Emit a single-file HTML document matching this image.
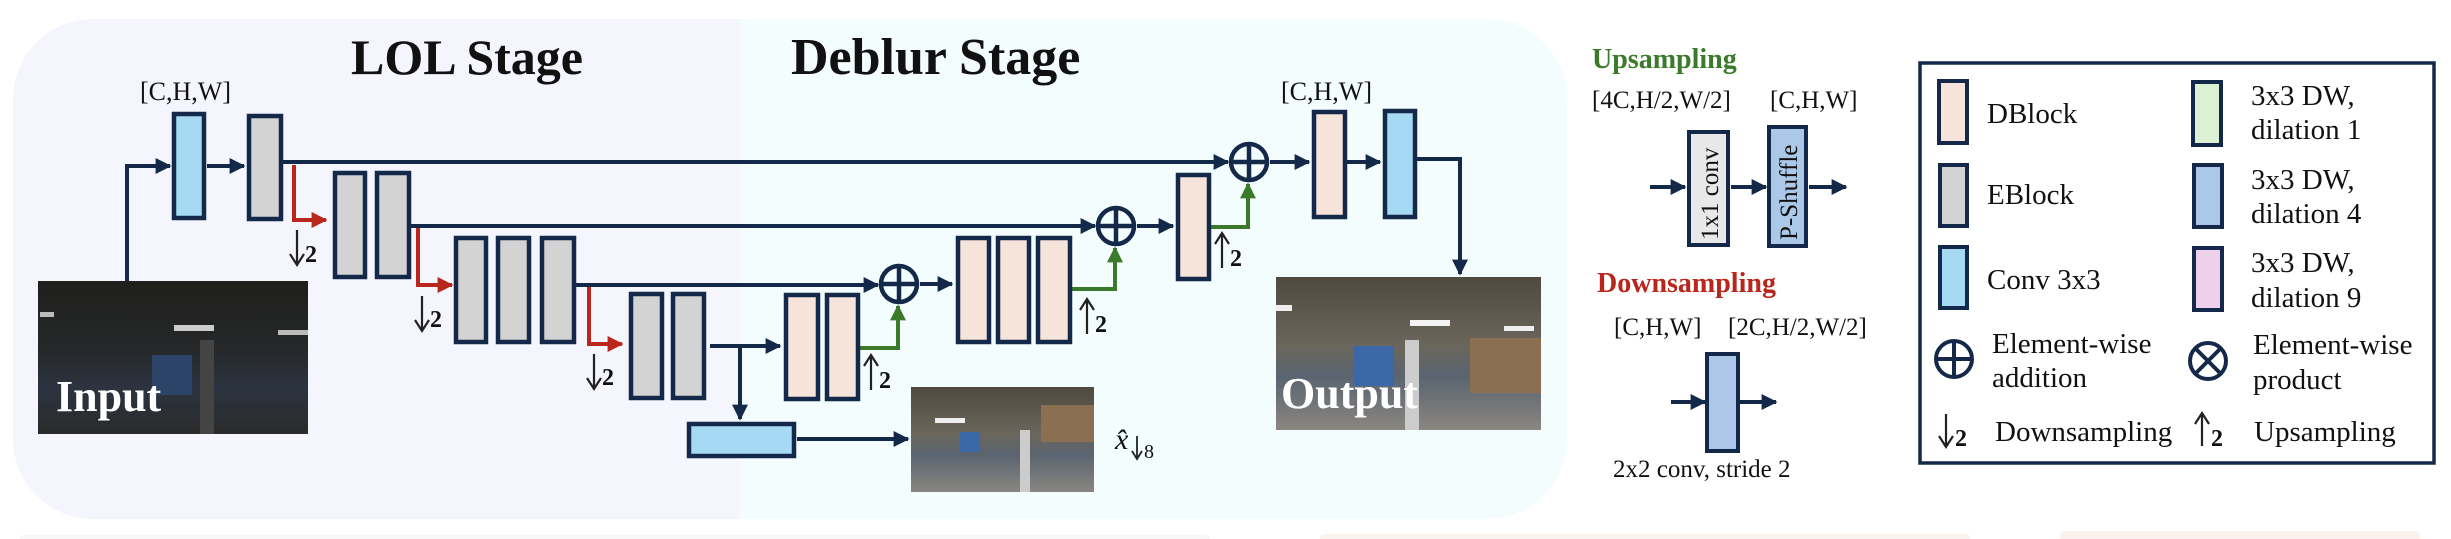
<!DOCTYPE html>
<html><head><meta charset="utf-8"><style>
html,body{margin:0;padding:0;background:#fff;}
svg{display:block;font-family:"Liberation Serif","DejaVu Serif",serif;}
text{font-family:"Liberation Serif","DejaVu Serif",serif;fill:#111;}
.ar{font-family:"DejaVu Serif",serif;}
</style></head><body>
<svg width="2451" height="539" viewBox="0 0 2451 539" xmlns="http://www.w3.org/2000/svg" font-family="Liberation Serif, serif">
<defs>
<marker id="a" viewBox="0 0 10 10" refX="9" refY="5" markerWidth="4" markerHeight="4" orient="auto"><path d="M0,0 L10,5 L0,10 z" fill="#14294a"/></marker>
<marker id="r" viewBox="0 0 10 10" refX="9" refY="5" markerWidth="4" markerHeight="4" orient="auto"><path d="M0,0 L10,5 L0,10 z" fill="#b8261c"/></marker>
<marker id="g" viewBox="0 0 10 10" refX="9" refY="5" markerWidth="4" markerHeight="4" orient="auto"><path d="M0,0 L10,5 L0,10 z" fill="#3a7a2a"/></marker>
<linearGradient id="inp" x1="0" y1="0" x2="0" y2="1"><stop offset="0" stop-color="#1f1f1c"/><stop offset="0.45" stop-color="#26282a"/><stop offset="0.7" stop-color="#2c3440"/><stop offset="1" stop-color="#2a2a2a"/></linearGradient>
<linearGradient id="out" x1="0" y1="0" x2="0" y2="1"><stop offset="0" stop-color="#4e4a40"/><stop offset="0.45" stop-color="#6a665c"/><stop offset="0.65" stop-color="#5a6470"/><stop offset="1" stop-color="#8a8680"/></linearGradient>
</defs>
<path d="M93,19 H740 V519 H93 A80,80 0 0 1 13,439 V99 A80,80 0 0 1 93,19 Z" fill="#f4f5fd"/>
<path d="M740,19 H1487 A80,80 0 0 1 1567,99 V439 A80,80 0 0 1 1487,519 H740 Z" fill="#f4fdfd"/>
<rect x="20" y="535" width="1190" height="6" rx="4" fill="#f8f8f8"/>
<rect x="1320" y="534" width="650" height="8" rx="5" fill="#fbf3ee"/>
<rect x="2060" y="531" width="360" height="10" rx="6" fill="#fbf1ec"/>

<text x="351" y="74" font-size="50" font-weight="bold" font-family="Liberation Serif, serif">LOL Stage</text>
<text x="791" y="74" font-size="52" font-weight="bold" font-family="Liberation Serif, serif">Deblur Stage</text>
<text x="140" y="100" font-size="26" font-family="Liberation Serif, serif">[C,H,W]</text>
<text x="1281" y="100" font-size="26" font-family="Liberation Serif, serif">[C,H,W]</text>

<g stroke="#14294a" stroke-width="4" fill="none">
<polyline points="127,281 127,166 170,166" marker-end="url(#a)"/>
<line x1="207" y1="166" x2="244" y2="166" marker-end="url(#a)"/>
<line x1="281" y1="162" x2="1228" y2="162" marker-end="url(#a)"/>
<line x1="409" y1="226" x2="1095" y2="226" marker-end="url(#a)"/>
<line x1="576" y1="285" x2="878" y2="285" marker-end="url(#a)"/>
<line x1="710" y1="346" x2="780" y2="346" marker-end="url(#a)"/>
<line x1="740" y1="346" x2="740" y2="419" marker-end="url(#a)"/>
<line x1="797" y1="439" x2="908" y2="439" marker-end="url(#a)"/>
<line x1="920" y1="284" x2="952" y2="284" marker-end="url(#a)"/>
<line x1="1137" y1="226" x2="1173" y2="226" marker-end="url(#a)"/>
<line x1="1270" y1="162" x2="1309" y2="162" marker-end="url(#a)"/>
<line x1="1347" y1="162" x2="1380" y2="162" marker-end="url(#a)"/>
<polyline points="1415,159 1460,159 1460,274" marker-end="url(#a)"/>
</g>
<g stroke="#b8261c" stroke-width="4" fill="none">
<polyline points="294,165 294,220 326,220" marker-end="url(#r)"/>
<polyline points="418,228 418,285 452,285" marker-end="url(#r)"/>
<polyline points="589,287 589,344 622,344" marker-end="url(#r)"/>
</g>
<g stroke="#3a7a2a" stroke-width="4" fill="none">
<polyline points="858,348 898,348 898,306" marker-end="url(#g)"/>
<polyline points="1070,289 1115,289 1115,248" marker-end="url(#g)"/>
<polyline points="1209,227 1248,227 1248,184" marker-end="url(#g)"/>
</g>

<g stroke="#14294a" stroke-width="4.5">
<rect x="174" y="114" width="30" height="104" fill="#a6daf4"/>
<rect x="249" y="116" width="32" height="103" fill="#d3d3d3"/>
<rect x="335" y="173" width="30" height="104" fill="#d3d3d3"/>
<rect x="377" y="173" width="32" height="104" fill="#d3d3d3"/>
<rect x="456" y="238" width="30" height="104" fill="#d3d3d3"/>
<rect x="498" y="238" width="31" height="104" fill="#d3d3d3"/>
<rect x="542" y="238" width="32" height="104" fill="#d3d3d3"/>
<rect x="631" y="294" width="31" height="104" fill="#d3d3d3"/>
<rect x="673" y="294" width="31" height="104" fill="#d3d3d3"/>
<rect x="689" y="424" width="105" height="32" fill="#a6daf4"/>
<rect x="786" y="295" width="32" height="104" fill="#f6e3d9"/>
<rect x="827" y="295" width="31" height="104" fill="#f6e3d9"/>
<rect x="958" y="238" width="31" height="104" fill="#f6e3d9"/>
<rect x="998" y="238" width="31" height="104" fill="#f6e3d9"/>
<rect x="1038" y="238" width="32" height="104" fill="#f6e3d9"/>
<rect x="1178" y="175" width="31" height="104" fill="#f6e3d9"/>
<rect x="1314" y="112" width="31" height="105" fill="#f6e3d9"/>
<rect x="1385" y="111" width="30" height="106" fill="#a6daf4"/>
</g>
<g stroke="#14294a" stroke-width="4.5" fill="none">
<circle cx="899" cy="284" r="18"/><line x1="881" y1="284" x2="917" y2="284"/><line x1="899" y1="266" x2="899" y2="302"/>
<circle cx="1116" cy="226" r="18"/><line x1="1098" y1="226" x2="1134" y2="226"/><line x1="1116" y1="208" x2="1116" y2="244"/>
<circle cx="1249" cy="162" r="18"/><line x1="1231" y1="162" x2="1267" y2="162"/><line x1="1249" y1="144" x2="1249" y2="180"/>
</g>
<!-- arrow labels drawn -->
<g stroke="#222" stroke-width="2.2" fill="none">
<path d="M297,230 V264 M290,254 L297,265 L304,254"/>
<path d="M422,296 V330 M415,320 L422,331 L429,320"/>
<path d="M594,354 V388 M587,378 L594,389 L601,378"/>
<path d="M871,390 V356 M864,366 L871,355 L878,366"/>
<path d="M1087,334 V300 M1080,310 L1087,299 L1094,310"/>
<path d="M1222,268 V234 M1215,244 L1222,233 L1229,244"/>
</g>
<g font-size="24" font-weight="bold" fill="#222" font-family="Liberation Serif, serif">
<text x="305" y="262">2</text><text x="430" y="327">2</text><text x="602" y="385">2</text>
<text x="879" y="388">2</text><text x="1095" y="332">2</text><text x="1230" y="266">2</text>
</g>
<rect x="38" y="281" width="270" height="153" fill="url(#inp)"/>
<rect x="40" y="312" width="14" height="5" fill="#bbb"/><rect x="174" y="325" width="40" height="6" fill="#ccc"/><rect x="278" y="330" width="30" height="5" fill="#bbb"/>
<rect x="152" y="355" width="40" height="40" fill="#2c4468"/><rect x="200" y="340" width="14" height="94" fill="#444"/>
<text x="56" y="411" font-size="44" font-weight="bold" style="fill:#fff" font-family="Liberation Serif, serif">Input</text>
<rect x="1276" y="277" width="265" height="153" fill="url(#out)"/>
<rect x="1276" y="305" width="16" height="6" fill="#eee"/><rect x="1410" y="320" width="40" height="6" fill="#f4f4f4"/><rect x="1504" y="326" width="30" height="5" fill="#eee"/>
<rect x="1354" y="346" width="40" height="40" fill="#3c68a8"/><rect x="1405" y="340" width="14" height="90" fill="#ccc"/><rect x="1470" y="338" width="71" height="55" fill="#8a7050"/>
<text x="1281" y="408" font-size="44" font-weight="bold" style="fill:#fff" font-family="Liberation Serif, serif">Output</text>
<rect x="911" y="387" width="183" height="105" fill="url(#out)"/>
<rect x="935" y="418" width="30" height="5" fill="#eee"/><rect x="960" y="432" width="20" height="20" fill="#3c68a8"/><rect x="1041" y="405" width="53" height="37" fill="#8a7050"/><rect x="1020" y="430" width="10" height="62" fill="#ccc"/>
<text x="1115" y="449" font-size="30" font-style="italic" font-family="Liberation Serif, serif">x̂</text>
<path d="M1137,436 V458 M1132,451 L1137,459 L1142,451" stroke="#222" stroke-width="1.8" fill="none"/>
<text x="1144" y="458" font-size="20" font-family="Liberation Serif, serif">8</text>

<text x="1592" y="68" font-size="28" font-weight="bold" style="fill:#3a7a2a" font-family="Liberation Serif, serif">Upsampling</text>
<text x="1592" y="108" font-size="25" font-family="Liberation Serif, serif">[4C,H/2,W/2]</text>
<text x="1770" y="108" font-size="25" font-family="Liberation Serif, serif">[C,H,W]</text>
<g stroke="#14294a" stroke-width="4" fill="none">
<line x1="1650" y1="187" x2="1685" y2="187" marker-end="url(#a)"/>
<line x1="1731" y1="187" x2="1766" y2="187" marker-end="url(#a)"/>
<line x1="1809" y1="187" x2="1846" y2="187" marker-end="url(#a)"/>
<line x1="1671" y1="402" x2="1705" y2="402" marker-end="url(#a)"/>
<line x1="1740" y1="402" x2="1776" y2="402" marker-end="url(#a)"/>
</g>
<rect x="1689" y="132" width="39" height="113" fill="#e8e8e8" stroke="#14294a" stroke-width="4"/>
<rect x="1769" y="127" width="37" height="119" fill="#abc8e8" stroke="#14294a" stroke-width="4"/>
<text transform="translate(1718,240) rotate(-90)" font-size="25" font-family="Liberation Serif, serif">1x1 conv</text>
<text transform="translate(1797,240) rotate(-90)" font-size="25" font-family="Liberation Serif, serif">P-Shuffle</text>
<text x="1597" y="292" font-size="28" font-weight="bold" style="fill:#b8261c" font-family="Liberation Serif, serif">Downsampling</text>
<text x="1614" y="335" font-size="25" font-family="Liberation Serif, serif">[C,H,W]</text>
<text x="1728" y="335" font-size="25" font-family="Liberation Serif, serif">[2C,H/2,W/2]</text>
<rect x="1707" y="354" width="31" height="97" fill="#abc8e8" stroke="#14294a" stroke-width="4"/>
<text x="1613" y="477" font-size="25" font-family="Liberation Serif, serif">2x2 conv, stride 2</text>

<rect x="1920" y="63" width="514" height="400" fill="none" stroke="#14294a" stroke-width="3.5"/>
<g stroke="#14294a" stroke-width="4">
<rect x="1939" y="81" width="28" height="62" fill="#f6e3d9"/>
<rect x="1940" y="165" width="27" height="61" fill="#d3d3d3"/>
<rect x="1940" y="247" width="27" height="61" fill="#a6daf4"/>
<rect x="2193" y="82" width="28" height="63" fill="#dcf0d6"/>
<rect x="2194" y="165" width="28" height="62" fill="#abc8e8"/>
<rect x="2194" y="248" width="28" height="62" fill="#ecd0ec"/>
</g>
<g stroke="#14294a" stroke-width="4" fill="none">
<circle cx="1954" cy="359" r="18"/><line x1="1936" y1="359" x2="1972" y2="359"/><line x1="1954" y1="341" x2="1954" y2="377"/>
<circle cx="2208" cy="361" r="18"/><line x1="2195" y1="348" x2="2221" y2="374"/><line x1="2221" y1="348" x2="2195" y2="374"/>
</g>
<g font-size="29" font-family="Liberation Serif, serif">
<text x="1987" y="123">DBlock</text>
<text x="1987" y="204">EBlock</text>
<text x="1987" y="289">Conv 3x3</text>
<text x="2251" y="105">3x3 DW,</text><text x="2251" y="139">dilation 1</text>
<text x="2251" y="189">3x3 DW,</text><text x="2251" y="223">dilation 4</text>
<text x="2251" y="272">3x3 DW,</text><text x="2251" y="307">dilation 9</text>
<text x="1992" y="353">Element-wise</text><text x="1992" y="387">addition</text>
<text x="2253" y="354">Element-wise</text><text x="2253" y="389">product</text>
<text x="1995" y="441">Downsampling</text>
<text x="2254" y="441">Upsampling</text>
</g>
<g stroke="#222" stroke-width="2.2" fill="none">
<path d="M1946,414 V446 M1939,436 L1946,447 L1953,436"/>
<path d="M2202,446 V414 M2195,424 L2202,413 L2209,424"/>
</g>
<g font-size="24" font-weight="bold" font-family="Liberation Serif, serif"><text x="1955" y="446">2</text><text x="2211" y="446">2</text></g>
</svg>
</body></html>
